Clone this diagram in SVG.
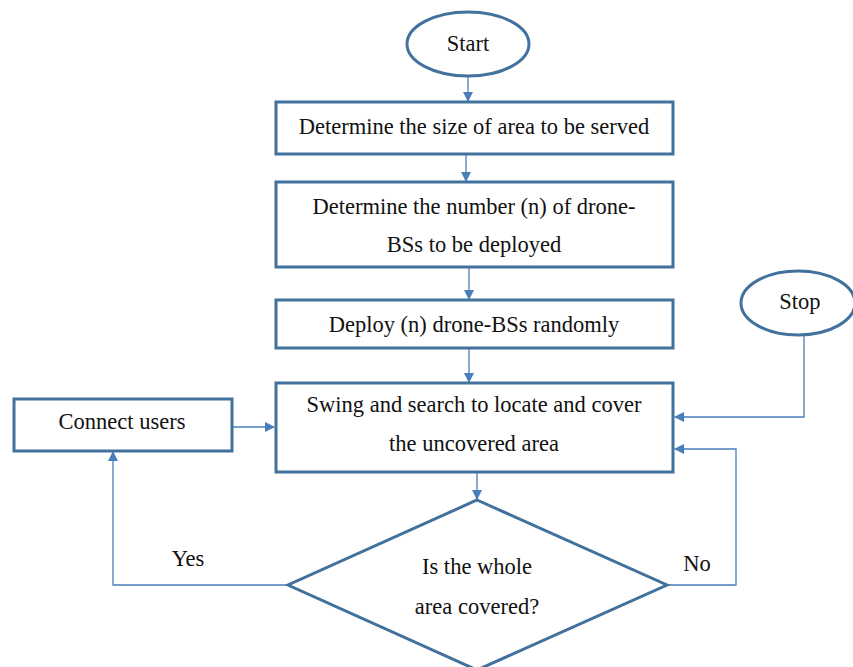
<svg xmlns="http://www.w3.org/2000/svg" width="853" height="667" viewBox="0 0 853 667">
<defs>
<style>
.node{fill:#fff;stroke:#41719C;stroke-width:3}
.t{font-family:"Liberation Serif","Times New Roman",serif;font-size:22.5px;fill:#111;text-anchor:middle}
.c{fill:none;stroke:#4A7EBB;stroke-width:1.3}
</style>
<marker id="ah" markerWidth="10" markerHeight="10" refX="9" refY="5" orient="auto" markerUnits="userSpaceOnUse">
<path d="M0,0 L10,5 L0,10 Z" fill="#4A7EBB"/>
</marker>
</defs>
<rect width="853" height="667" fill="#fff"/>
<g id="connectors">
<path class="c" d="M468,76 V101" marker-end="url(#ah)"/>
<path class="c" d="M466,155 V181" marker-end="url(#ah)"/>
<path class="c" d="M469,268 V299" marker-end="url(#ah)"/>
<path class="c" d="M469,348 V382" marker-end="url(#ah)"/>
<path class="c" d="M477,472 V499" marker-end="url(#ah)"/>
<path class="c" d="M804,335 V417 H675" marker-end="url(#ah)"/>
<path class="c" d="M667,585 H736 V449 H675" marker-end="url(#ah)"/>
<path class="c" d="M288,585 H113 V452" marker-end="url(#ah)"/>
<path class="c" d="M233,427 H274" marker-end="url(#ah)"/>
</g>
<g id="start">
<ellipse class="node" cx="468" cy="44" rx="61" ry="32"/>
<text class="t" x="468" y="51">Start</text>
</g>
<g id="size">
<rect class="node" x="276" y="102" width="397" height="52"/>
<text class="t" x="474" y="134">Determine the size of area to be served</text>
</g>
<g id="number">
<rect class="node" x="276" y="182" width="397" height="85"/>
<text class="t" x="474" y="214">Determine the number (n) of drone-</text>
<text class="t" x="474" y="252">BSs to be deployed</text>
</g>
<g id="deploy">
<rect class="node" x="276" y="300" width="397" height="48"/>
<text class="t" x="474" y="332">Deploy (n) drone-BSs randomly</text>
</g>
<g id="swing">
<rect class="node" x="276" y="383" width="397" height="89"/>
<text class="t" x="474" y="412">Swing and search to locate and cover</text>
<text class="t" x="474" y="451">the uncovered area</text>
</g>
<g id="decision">
<polygon class="node" points="477,500 667,585 477,670 288,585"/>
<text class="t" x="477" y="574">Is the whole</text>
<text class="t" x="477" y="614">area covered?</text>
</g>
<g id="stop">
<ellipse class="node" cx="798" cy="303" rx="57" ry="32"/>
<text class="t" x="800" y="309">Stop</text>
</g>
<g id="connect">
<rect class="node" x="14" y="399" width="218" height="52"/>
<text class="t" x="122" y="429">Connect users</text>
</g>
<g id="labels">
<text class="t" x="188" y="566">Yes</text>
<text class="t" x="697" y="571">No</text>
</g>
</svg>
